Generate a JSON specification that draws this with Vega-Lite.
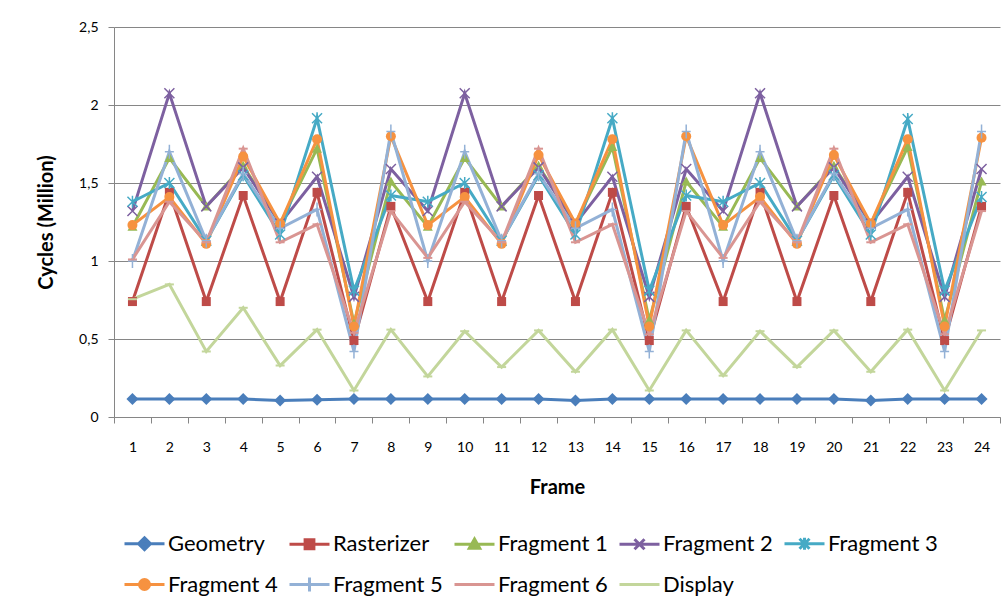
{
  "$schema": "https://vega.github.io/schema/vega-lite/v6.json",
  "autosize": "none",
  "width": 886,
  "height": 390,
  "padding": {"left": 114, "top": 27, "right": 8, "bottom": 191},
  "background": "white",
  "config": {
    "view": {"stroke": null},
    "font": "Lato",
    "axis": {"domainColor": "#868686", "tickColor": "#868686", "gridColor": "#868686", "labelFont": "Lato", "titleFont": "Lato", "labelColor": "#000", "titleColor": "#000"}
  },
  "data": {
    "values": [
      {"Frame":1,"Series":"Geometry","Cycles":0.115},{"Frame":1,"Series":"Rasterizer","Cycles":0.74},{"Frame":1,"Series":"Fragment 1","Cycles":1.22},{"Frame":1,"Series":"Fragment 2","Cycles":1.32},{"Frame":1,"Series":"Fragment 3","Cycles":1.38},{"Frame":1,"Series":"Fragment 4","Cycles":1.23},{"Frame":1,"Series":"Fragment 5","Cycles":1.0},{"Frame":1,"Series":"Fragment 6","Cycles":1.01},{"Frame":1,"Series":"Display","Cycles":0.755},
      {"Frame":2,"Series":"Geometry","Cycles":0.115},{"Frame":2,"Series":"Rasterizer","Cycles":1.44},{"Frame":2,"Series":"Fragment 1","Cycles":1.66},{"Frame":2,"Series":"Fragment 2","Cycles":2.075},{"Frame":2,"Series":"Fragment 3","Cycles":1.5},{"Frame":2,"Series":"Fragment 4","Cycles":1.41},{"Frame":2,"Series":"Fragment 5","Cycles":1.7},{"Frame":2,"Series":"Fragment 6","Cycles":1.38},{"Frame":2,"Series":"Display","Cycles":0.85},
      {"Frame":3,"Series":"Geometry","Cycles":0.115},{"Frame":3,"Series":"Rasterizer","Cycles":0.74},{"Frame":3,"Series":"Fragment 1","Cycles":1.35},{"Frame":3,"Series":"Fragment 2","Cycles":1.35},{"Frame":3,"Series":"Fragment 3","Cycles":1.13},{"Frame":3,"Series":"Fragment 4","Cycles":1.11},{"Frame":3,"Series":"Fragment 5","Cycles":1.13},{"Frame":3,"Series":"Fragment 6","Cycles":1.12},{"Frame":3,"Series":"Display","Cycles":0.42},
      {"Frame":4,"Series":"Geometry","Cycles":0.115},{"Frame":4,"Series":"Rasterizer","Cycles":1.42},{"Frame":4,"Series":"Fragment 1","Cycles":1.61},{"Frame":4,"Series":"Fragment 2","Cycles":1.6},{"Frame":4,"Series":"Fragment 3","Cycles":1.55},{"Frame":4,"Series":"Fragment 4","Cycles":1.67},{"Frame":4,"Series":"Fragment 5","Cycles":1.56},{"Frame":4,"Series":"Fragment 6","Cycles":1.72},{"Frame":4,"Series":"Display","Cycles":0.7},
      {"Frame":5,"Series":"Geometry","Cycles":0.105},{"Frame":5,"Series":"Rasterizer","Cycles":0.74},{"Frame":5,"Series":"Fragment 1","Cycles":1.24},{"Frame":5,"Series":"Fragment 2","Cycles":1.24},{"Frame":5,"Series":"Fragment 3","Cycles":1.17},{"Frame":5,"Series":"Fragment 4","Cycles":1.24},{"Frame":5,"Series":"Fragment 5","Cycles":1.21},{"Frame":5,"Series":"Fragment 6","Cycles":1.12},{"Frame":5,"Series":"Display","Cycles":0.33},
      {"Frame":6,"Series":"Geometry","Cycles":0.11},{"Frame":6,"Series":"Rasterizer","Cycles":1.44},{"Frame":6,"Series":"Fragment 1","Cycles":1.72},{"Frame":6,"Series":"Fragment 2","Cycles":1.54},{"Frame":6,"Series":"Fragment 3","Cycles":1.915},{"Frame":6,"Series":"Fragment 4","Cycles":1.78},{"Frame":6,"Series":"Fragment 5","Cycles":1.33},{"Frame":6,"Series":"Fragment 6","Cycles":1.235},{"Frame":6,"Series":"Display","Cycles":0.56},
      {"Frame":7,"Series":"Geometry","Cycles":0.115},{"Frame":7,"Series":"Rasterizer","Cycles":0.49},{"Frame":7,"Series":"Fragment 1","Cycles":0.6},{"Frame":7,"Series":"Fragment 2","Cycles":0.77},{"Frame":7,"Series":"Fragment 3","Cycles":0.81},{"Frame":7,"Series":"Fragment 4","Cycles":0.58},{"Frame":7,"Series":"Fragment 5","Cycles":0.42},{"Frame":7,"Series":"Fragment 6","Cycles":0.54},{"Frame":7,"Series":"Display","Cycles":0.17},
      {"Frame":8,"Series":"Geometry","Cycles":0.115},{"Frame":8,"Series":"Rasterizer","Cycles":1.35},{"Frame":8,"Series":"Fragment 1","Cycles":1.51},{"Frame":8,"Series":"Fragment 2","Cycles":1.59},{"Frame":8,"Series":"Fragment 3","Cycles":1.42},{"Frame":8,"Series":"Fragment 4","Cycles":1.8},{"Frame":8,"Series":"Fragment 5","Cycles":1.83},{"Frame":8,"Series":"Fragment 6","Cycles":1.32},{"Frame":8,"Series":"Display","Cycles":0.56},
      {"Frame":9,"Series":"Geometry","Cycles":0.115},{"Frame":9,"Series":"Rasterizer","Cycles":0.74},{"Frame":9,"Series":"Fragment 1","Cycles":1.22},{"Frame":9,"Series":"Fragment 2","Cycles":1.32},{"Frame":9,"Series":"Fragment 3","Cycles":1.38},{"Frame":9,"Series":"Fragment 4","Cycles":1.23},{"Frame":9,"Series":"Fragment 5","Cycles":1.0},{"Frame":9,"Series":"Fragment 6","Cycles":1.02},{"Frame":9,"Series":"Display","Cycles":0.26},
      {"Frame":10,"Series":"Geometry","Cycles":0.115},{"Frame":10,"Series":"Rasterizer","Cycles":1.44},{"Frame":10,"Series":"Fragment 1","Cycles":1.66},{"Frame":10,"Series":"Fragment 2","Cycles":2.075},{"Frame":10,"Series":"Fragment 3","Cycles":1.5},{"Frame":10,"Series":"Fragment 4","Cycles":1.41},{"Frame":10,"Series":"Fragment 5","Cycles":1.7},{"Frame":10,"Series":"Fragment 6","Cycles":1.38},{"Frame":10,"Series":"Display","Cycles":0.55},
      {"Frame":11,"Series":"Geometry","Cycles":0.115},{"Frame":11,"Series":"Rasterizer","Cycles":0.74},{"Frame":11,"Series":"Fragment 1","Cycles":1.35},{"Frame":11,"Series":"Fragment 2","Cycles":1.35},{"Frame":11,"Series":"Fragment 3","Cycles":1.13},{"Frame":11,"Series":"Fragment 4","Cycles":1.11},{"Frame":11,"Series":"Fragment 5","Cycles":1.13},{"Frame":11,"Series":"Fragment 6","Cycles":1.12},{"Frame":11,"Series":"Display","Cycles":0.32},
      {"Frame":12,"Series":"Geometry","Cycles":0.115},{"Frame":12,"Series":"Rasterizer","Cycles":1.42},{"Frame":12,"Series":"Fragment 1","Cycles":1.61},{"Frame":12,"Series":"Fragment 2","Cycles":1.6},{"Frame":12,"Series":"Fragment 3","Cycles":1.55},{"Frame":12,"Series":"Fragment 4","Cycles":1.68},{"Frame":12,"Series":"Fragment 5","Cycles":1.56},{"Frame":12,"Series":"Fragment 6","Cycles":1.72},{"Frame":12,"Series":"Display","Cycles":0.555},
      {"Frame":13,"Series":"Geometry","Cycles":0.105},{"Frame":13,"Series":"Rasterizer","Cycles":0.74},{"Frame":13,"Series":"Fragment 1","Cycles":1.24},{"Frame":13,"Series":"Fragment 2","Cycles":1.24},{"Frame":13,"Series":"Fragment 3","Cycles":1.17},{"Frame":13,"Series":"Fragment 4","Cycles":1.24},{"Frame":13,"Series":"Fragment 5","Cycles":1.21},{"Frame":13,"Series":"Fragment 6","Cycles":1.12},{"Frame":13,"Series":"Display","Cycles":0.29},
      {"Frame":14,"Series":"Geometry","Cycles":0.115},{"Frame":14,"Series":"Rasterizer","Cycles":1.44},{"Frame":14,"Series":"Fragment 1","Cycles":1.73},{"Frame":14,"Series":"Fragment 2","Cycles":1.54},{"Frame":14,"Series":"Fragment 3","Cycles":1.915},{"Frame":14,"Series":"Fragment 4","Cycles":1.78},{"Frame":14,"Series":"Fragment 5","Cycles":1.33},{"Frame":14,"Series":"Fragment 6","Cycles":1.235},{"Frame":14,"Series":"Display","Cycles":0.56},
      {"Frame":15,"Series":"Geometry","Cycles":0.115},{"Frame":15,"Series":"Rasterizer","Cycles":0.49},{"Frame":15,"Series":"Fragment 1","Cycles":0.62},{"Frame":15,"Series":"Fragment 2","Cycles":0.77},{"Frame":15,"Series":"Fragment 3","Cycles":0.81},{"Frame":15,"Series":"Fragment 4","Cycles":0.58},{"Frame":15,"Series":"Fragment 5","Cycles":0.42},{"Frame":15,"Series":"Fragment 6","Cycles":0.53},{"Frame":15,"Series":"Display","Cycles":0.17},
      {"Frame":16,"Series":"Geometry","Cycles":0.115},{"Frame":16,"Series":"Rasterizer","Cycles":1.35},{"Frame":16,"Series":"Fragment 1","Cycles":1.51},{"Frame":16,"Series":"Fragment 2","Cycles":1.59},{"Frame":16,"Series":"Fragment 3","Cycles":1.42},{"Frame":16,"Series":"Fragment 4","Cycles":1.8},{"Frame":16,"Series":"Fragment 5","Cycles":1.83},{"Frame":16,"Series":"Fragment 6","Cycles":1.32},{"Frame":16,"Series":"Display","Cycles":0.555},
      {"Frame":17,"Series":"Geometry","Cycles":0.115},{"Frame":17,"Series":"Rasterizer","Cycles":0.74},{"Frame":17,"Series":"Fragment 1","Cycles":1.22},{"Frame":17,"Series":"Fragment 2","Cycles":1.32},{"Frame":17,"Series":"Fragment 3","Cycles":1.38},{"Frame":17,"Series":"Fragment 4","Cycles":1.23},{"Frame":17,"Series":"Fragment 5","Cycles":1.0},{"Frame":17,"Series":"Fragment 6","Cycles":1.02},{"Frame":17,"Series":"Display","Cycles":0.265},
      {"Frame":18,"Series":"Geometry","Cycles":0.115},{"Frame":18,"Series":"Rasterizer","Cycles":1.44},{"Frame":18,"Series":"Fragment 1","Cycles":1.66},{"Frame":18,"Series":"Fragment 2","Cycles":2.075},{"Frame":18,"Series":"Fragment 3","Cycles":1.5},{"Frame":18,"Series":"Fragment 4","Cycles":1.41},{"Frame":18,"Series":"Fragment 5","Cycles":1.7},{"Frame":18,"Series":"Fragment 6","Cycles":1.38},{"Frame":18,"Series":"Display","Cycles":0.55},
      {"Frame":19,"Series":"Geometry","Cycles":0.115},{"Frame":19,"Series":"Rasterizer","Cycles":0.74},{"Frame":19,"Series":"Fragment 1","Cycles":1.35},{"Frame":19,"Series":"Fragment 2","Cycles":1.35},{"Frame":19,"Series":"Fragment 3","Cycles":1.13},{"Frame":19,"Series":"Fragment 4","Cycles":1.11},{"Frame":19,"Series":"Fragment 5","Cycles":1.13},{"Frame":19,"Series":"Fragment 6","Cycles":1.12},{"Frame":19,"Series":"Display","Cycles":0.32},
      {"Frame":20,"Series":"Geometry","Cycles":0.115},{"Frame":20,"Series":"Rasterizer","Cycles":1.42},{"Frame":20,"Series":"Fragment 1","Cycles":1.61},{"Frame":20,"Series":"Fragment 2","Cycles":1.6},{"Frame":20,"Series":"Fragment 3","Cycles":1.55},{"Frame":20,"Series":"Fragment 4","Cycles":1.68},{"Frame":20,"Series":"Fragment 5","Cycles":1.56},{"Frame":20,"Series":"Fragment 6","Cycles":1.72},{"Frame":20,"Series":"Display","Cycles":0.555},
      {"Frame":21,"Series":"Geometry","Cycles":0.105},{"Frame":21,"Series":"Rasterizer","Cycles":0.74},{"Frame":21,"Series":"Fragment 1","Cycles":1.24},{"Frame":21,"Series":"Fragment 2","Cycles":1.24},{"Frame":21,"Series":"Fragment 3","Cycles":1.17},{"Frame":21,"Series":"Fragment 4","Cycles":1.24},{"Frame":21,"Series":"Fragment 5","Cycles":1.21},{"Frame":21,"Series":"Fragment 6","Cycles":1.12},{"Frame":21,"Series":"Display","Cycles":0.29},
      {"Frame":22,"Series":"Geometry","Cycles":0.115},{"Frame":22,"Series":"Rasterizer","Cycles":1.44},{"Frame":22,"Series":"Fragment 1","Cycles":1.73},{"Frame":22,"Series":"Fragment 2","Cycles":1.54},{"Frame":22,"Series":"Fragment 3","Cycles":1.91},{"Frame":22,"Series":"Fragment 4","Cycles":1.78},{"Frame":22,"Series":"Fragment 5","Cycles":1.33},{"Frame":22,"Series":"Fragment 6","Cycles":1.235},{"Frame":22,"Series":"Display","Cycles":0.56},
      {"Frame":23,"Series":"Geometry","Cycles":0.115},{"Frame":23,"Series":"Rasterizer","Cycles":0.49},{"Frame":23,"Series":"Fragment 1","Cycles":0.62},{"Frame":23,"Series":"Fragment 2","Cycles":0.77},{"Frame":23,"Series":"Fragment 3","Cycles":0.81},{"Frame":23,"Series":"Fragment 4","Cycles":0.58},{"Frame":23,"Series":"Fragment 5","Cycles":0.42},{"Frame":23,"Series":"Fragment 6","Cycles":0.53},{"Frame":23,"Series":"Display","Cycles":0.17},
      {"Frame":24,"Series":"Geometry","Cycles":0.115},{"Frame":24,"Series":"Rasterizer","Cycles":1.35},{"Frame":24,"Series":"Fragment 1","Cycles":1.51},{"Frame":24,"Series":"Fragment 2","Cycles":1.59},{"Frame":24,"Series":"Fragment 3","Cycles":1.41},{"Frame":24,"Series":"Fragment 4","Cycles":1.79},{"Frame":24,"Series":"Fragment 5","Cycles":1.83},{"Frame":24,"Series":"Fragment 6","Cycles":1.32},{"Frame":24,"Series":"Display","Cycles":0.555}
    ]
  },
  "encoding": {
    "x": {
      "field": "Frame", "type": "ordinal",
      "scale": {"type": "band", "paddingInner": 0, "paddingOuter": 0},
      "axis": {"labelAngle": 0, "tickBand": "extent", "tickSize": 6, "labelPadding": 17, "labelFontSize": 14, "title": "Frame", "titleFontSize": 20, "titleFontWeight": "bold", "titlePadding": 23, "grid": false}
    },
    "y": {
      "field": "Cycles", "type": "quantitative",
      "scale": {"domain": [0, 2.5], "nice": false, "zero": true},
      "axis": {"values": [0, 0.5, 1, 1.5, 2, 2.5], "labelExpr": "replace(toString(datum.value), '.', ',')", "tickSize": 6, "labelPadding": 10, "labelFontSize": 14, "title": "Cycles (Million)", "titleFontSize": 20, "titleFontWeight": "bold", "titlePadding": 22, "grid": true, "gridOpacity": 1}
    },
    "color": {
      "field": "Series", "type": "nominal",
      "scale": {
        "domain": ["Geometry", "Rasterizer", "Fragment 1", "Fragment 2", "Fragment 3", "Fragment 4", "Fragment 5", "Fragment 6", "Display"],
        "range": ["#4A7EBB", "#BE4B48", "#98B954", "#7D60A0", "#46AAC5", "#F69240", "#93B1D6", "#D99592", "#C3D69B"]
      },
      "legend": {
        "orient": "none", "legendX": 9, "legendY": 495, "direction": "horizontal", "columns": 5, "gridAlign": "each",
        "title": null, "symbolSize": 1600, "symbolStrokeWidth": 3, "labelFont": "Lato", "labelFontSize": 22, "labelColor": "#000",
        "labelOffset": 2, "columnPadding": 5, "rowPadding": 7, "labelLimit": 300,
        "encode": {
          "symbols": {
            "update": {
              "shape": {"signal": "['M-1,0H1M0,-0.3L0.3,0L0,0.3L-0.3,0Z','M-1,0H1M-0.22,-0.22H0.22V0.22H-0.22Z','M-1,0H1M0,-0.26L0.26,0.2H-0.26Z','M-1,0H1M-0.25,-0.25L0.25,0.25M-0.25,0.25L0.25,-0.25','M-1,0H1M-0.25,-0.25L0.25,0.25M-0.25,0.25L0.25,-0.25M0,-0.3V0.3','M-1,0H1M-0.25,0A0.25,0.25 0 1,0 0.25,0A0.25,0.25 0 1,0 -0.25,0Z','M-1,0H1M0,-0.35V0.35','M-1,0H1','M-1,0H1'][indexof(['Geometry','Rasterizer','Fragment 1','Fragment 2','Fragment 3','Fragment 4','Fragment 5','Fragment 6','Display'], datum.value)]"},
              "fill": {"scale": "color", "field": "value"},
              "stroke": {"scale": "color", "field": "value"},
              "strokeWidth": {"value": 3},
              "opacity": {"value": 1}
            }
          }
        }
      }
    }
  },
  "layer": [
    {"mark": {"type": "line", "strokeWidth": 3}},
    {"transform": [{"filter": "datum.Series === 'Geometry'"}], "mark": {"type": "point", "filled": true, "opacity": 1, "size": 100, "shape": "M0,-1.2L1.2,0L0,1.2L-1.2,0Z"}},
    {"transform": [{"filter": "datum.Series === 'Rasterizer'"}], "mark": {"type": "point", "filled": true, "opacity": 1, "size": 100, "shape": "M-0.9,-0.9H0.9V0.9H-0.9Z"}},
    {"transform": [{"filter": "datum.Series === 'Fragment 1'"}], "mark": {"type": "point", "filled": true, "opacity": 1, "size": 100, "shape": "M0,-1L1,0.8H-1Z"}},
    {"transform": [{"filter": "datum.Series === 'Fragment 2'"}], "mark": {"type": "point", "filled": false, "opacity": 1, "size": 100, "strokeWidth": 1.5, "shape": "M-1,-1L1,1M-1,1L1,-1"}},
    {"transform": [{"filter": "datum.Series === 'Fragment 3'"}], "mark": {"type": "point", "filled": false, "opacity": 1, "size": 100, "strokeWidth": 1.5, "shape": "M-1,-1L1,1M-1,1L1,-1M0,-1.2V1.2"}},
    {"transform": [{"filter": "datum.Series === 'Fragment 4'"}], "mark": {"type": "point", "filled": true, "opacity": 1, "size": 100, "shape": "circle"}},
    {"transform": [{"filter": "datum.Series === 'Fragment 5'"}], "mark": {"type": "point", "filled": false, "opacity": 1, "size": 100, "strokeWidth": 1.5, "shape": "M-0.9,0H0.9M0,-1.4V1.4"}},
    {"transform": [{"filter": "datum.Series === 'Fragment 6'"}], "mark": {"type": "point", "filled": false, "opacity": 1, "size": 100, "strokeWidth": 2, "shape": "M-0.9,0H0.9"}},
    {"transform": [{"filter": "datum.Series === 'Display'"}], "mark": {"type": "point", "filled": false, "opacity": 1, "size": 100, "strokeWidth": 2, "shape": "M-0.9,0H0.9"}}
  ]
}
